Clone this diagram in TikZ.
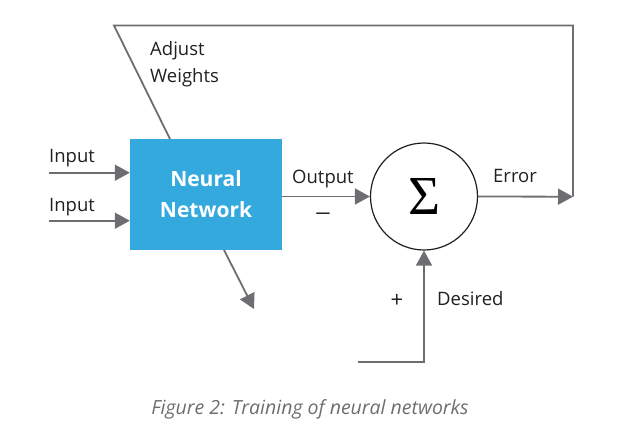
\documentclass[tikz,border=0pt]{standalone}
\usepackage{fontspec}
\setmainfont{Open Sans}
\newfontfamily\sigfont{Liberation Serif}
\usetikzlibrary{arrows.meta}
\definecolor{nnblue}{HTML}{33A9DD}
\definecolor{lgray}{HTML}{6D6E71}
\definecolor{tgray}{HTML}{231F20}
\tikzset{
  conn/.style={draw=lgray, line width=1.8pt, -{Triangle[length=15pt,width=16pt]}},
  plain/.style={draw=lgray, line width=1.8pt},
  lbl/.style={font=\fontsize{18.5}{22}\selectfont, text=tgray, inner sep=0pt},
  sgn/.style={font=\fontsize{22}{24}\selectfont, text=tgray, inner sep=0pt},
}
\begin{document}
\begin{tikzpicture}[x=1pt,y=-1pt]
\useasboundingbox (0,0) rectangle (644,432);
\node[fill=nnblue, minimum width=152pt, minimum height=111pt, inner sep=0pt, align=center,
  font=\bfseries\fontsize{21}{31}\selectfont, text=white] (nn) at (206,194.5) {Neural\\Network};
\node[draw=tgray, line width=1.2pt, circle, minimum size=107pt, inner sep=0pt,
  font=\sigfont\fontsize{55}{55}\selectfont] (sum) at (424,196.5) {Σ};
\coordinate (in1) at (49,172.7);
\coordinate (in2) at (49,220.7);
\coordinate (tr) at (573,196.7);
\coordinate (tt) at (573,25.5);
\coordinate (tl) at (114,25.5);
\coordinate (bt) at (170,139);
\coordinate (dstart) at (358,362);
\coordinate (dcorner) at (424,362);
\coordinate (ostart) at (224,250);
\coordinate (oend) at (254,309);
\draw[conn] (in1) -- (in1 -| nn.west);
\draw[conn] (in2) -- (in2 -| nn.west);
\draw[conn] (nn.east |- sum.west) -- (sum.west);
\draw[conn] (sum.east) -- (tr);
\draw[plain, line join=miter] (tr) -- (tt) -- (tl) -- (bt);
\draw[conn] (dstart) -- (dcorner) -- (sum.south);
\draw[conn] (ostart) -- (oend);
\node[lbl, anchor=base west] (l1) at (49,162) {Input};
\node[lbl, anchor=base west] (l2) at (49,211) {Input};
\node[lbl, anchor=base west] (lo) at (292,183) {Output};
\node[lbl, anchor=base west] (le) at (493,182) {Error};
\node[lbl, anchor=base west] (ld) at (437,305) {Desired};
\node[sgn, xscale=1.3] (lm) at (323,217) {−};
\node[sgn] (lp) at (397,301) {+};
\node[lbl, anchor=base west, align=left] (la) at (150,55) {Adjust};
\node[lbl, anchor=base west, align=left] (lw) at (150,82) {Weights};
\node[font=\itshape\fontsize{19.5}{22}\selectfont, text=lgray, anchor=base] (cap) at (310,414) {Figure 2: Training of neural networks};
\end{tikzpicture}
\end{document}
